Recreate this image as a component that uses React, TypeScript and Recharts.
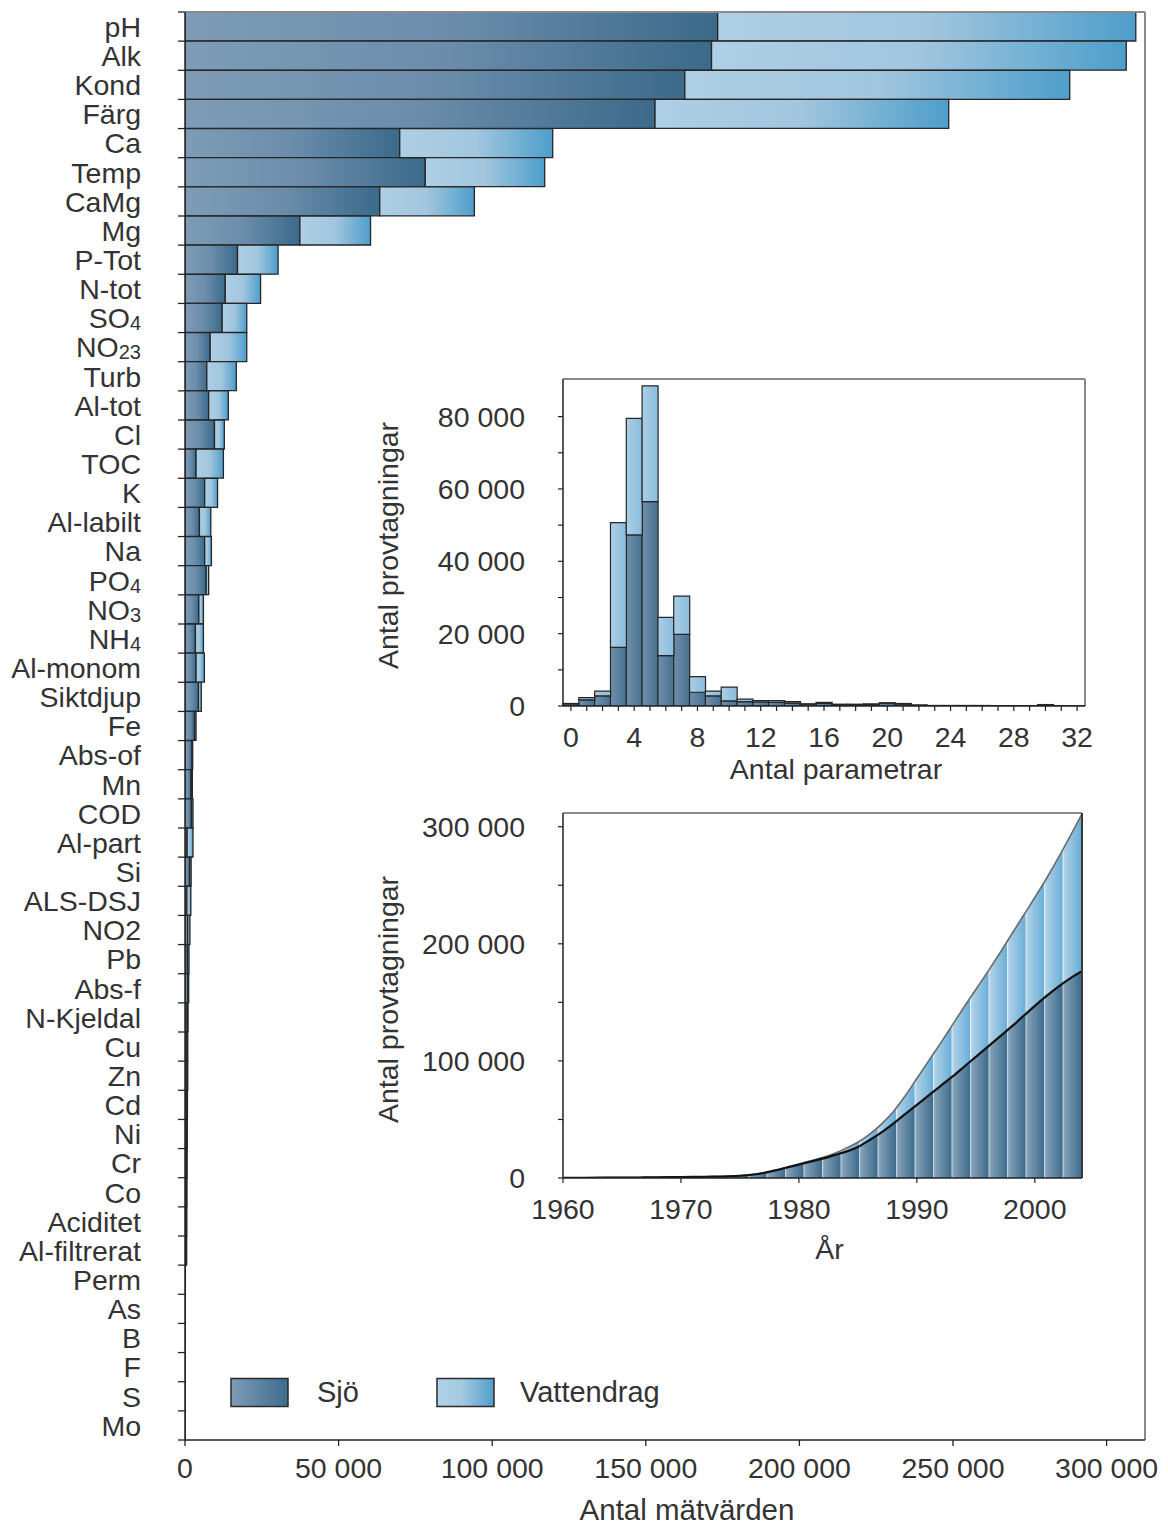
import React from 'react';
import { BarChart, Bar, XAxis, YAxis, Legend, Label, ComposedChart, Area, Line, ReferenceLine, CartesianGrid } from 'recharts';

const FONT = '"Liberation Sans", Arial, Helvetica, sans-serif';
const TEXT = '#333333';

// ---------- Main chart data (Antal mätvärden) ----------
const categories = [
  'pH', 'Alk', 'Kond', 'Färg', 'Ca', 'Temp', 'CaMg', 'Mg', 'P-Tot', 'N-tot',
  'SO4', 'NO23', 'Turb', 'Al-tot', 'Cl', 'TOC', 'K', 'Al-labilt', 'Na', 'PO4',
  'NO3', 'NH4', 'Al-monom', 'Siktdjup', 'Fe', 'Abs-of', 'Mn', 'COD', 'Al-part', 'Si',
  'ALS-DSJ', 'NO2', 'Pb', 'Abs-f', 'N-Kjeldal', 'Cu', 'Zn', 'Cd', 'Ni', 'Cr',
  'Co', 'Aciditet', 'Al-filtrerat', 'Perm', 'As', 'B', 'F', 'S', 'Mo',
];
const sjoCounts = [
  173400, 171400, 162700, 153000, 69900, 78200, 63400, 37400, 17100, 13100,
  12100, 8200, 7100, 7700, 9600, 3600, 6400, 4700, 6400, 6900,
  4500, 3400, 3600, 4400, 3100, 2300, 2000, 2100, 700, 1500,
  600, 900, 800, 900, 700, 600, 600, 500, 500, 450,
  400, 400, 350, 80, 60, 50, 40, 30, 20,
];
const vattCounts = [
  136100, 135000, 125300, 95600, 49800, 38900, 30800, 23000, 13200, 11500,
  8000, 11900, 9600, 6400, 3200, 8900, 4200, 3700, 2200, 800,
  1500, 2600, 2700, 900, 500, 200, 400, 500, 1900, 500,
  1300, 700, 500, 300, 300, 300, 300, 300, 250, 250,
  250, 200, 200, 40, 30, 20, 20, 20, 10,
];
const mainTicks = [0, 50000, 100000, 150000, 200000, 250000, 300000];
const MAIN_MAX = 312500;
const SUBS: Record<string, [string, string]> = {
  SO4: ['SO', '4'], NO23: ['NO', '23'], PO4: ['PO', '4'], NO3: ['NO', '3'], NH4: ['NH', '4'],
};

// ---------- Histogram data (Antal parametrar) ----------
const histParams = Array.from({ length: 33 }, (_, i) => String(i));
const histSjo = [
  600, 1700, 2800, 16200, 47300, 56500, 13900, 19800, 3800, 2800, 1400,
  1200, 1100, 1000, 800, 500, 700, 400, 400, 400, 700, 500,
  200, 100, 100, 100, 100, 100, 100, 100, 300, 100, 0,
];
const histVatt = [
  100, 600, 1300, 34500, 32200, 32000, 10600, 10600, 4300, 1300, 3800,
  700, 400, 500, 400, 100, 300, 100, 100, 200, 200, 200,
  100, 50, 50, 50, 50, 0, 0, 0, 100, 0, 50,
];
const histYTicks = [0, 10000, 20000, 30000, 40000, 50000, 60000, 70000, 80000];
const HIST_MAX = 90400;

// ---------- Cumulative data (År) ----------
const years = Array.from({ length: 45 }, (_, i) => 1960 + i);
const cumSjo = [
  100, 150, 200, 250, 300, 350, 400, 500, 600, 700,
  800, 900, 1000, 1200, 1400, 1900, 2800, 4300, 6500, 9000,
  11500, 14000, 16500, 19500, 22500, 26500, 32500, 39000, 46500, 54500,
  62500, 70500, 78500, 86500, 95000, 103500, 112000, 120500, 129000, 138000,
  147000, 155500, 163500, 170500, 176500,
];
const cumVatt = [
  0, 0, 0, 0, 0, 0, 0, 0, 0, 0,
  0, 0, 0, 0, 50, 50, 100, 100, 200, 300,
  500, 700, 1000, 1500, 3000, 4000, 5000, 7000, 10000, 15500,
  22500, 29500, 36500, 44000, 51000, 57500, 64000, 71000, 78500, 85500,
  92500, 100500, 110000, 121500, 134500,
];
const yearTicks = [1960, 1970, 1980, 1990, 2000];
const YEAR_MIN = 1960;
const YEAR_MAX = 2004;
const cumYTicks = [0, 50000, 100000, 150000, 200000, 250000, 300000];
const CUM_MAX = 311700;

const mainData = categories.map((name, i) => ({ name, sjo: sjoCounts[i], vatt: vattCounts[i] }));
const histData = histParams.map((n, i) => ({ n, sjo: histSjo[i], vatt: histVatt[i] }));
const cumData = years.map((year, i) => ({ year, sjo: cumSjo[i], vatt: cumVatt[i] }));

const fmt = (v: number) => String(v).replace(/\B(?=(\d{3})+(?!\d))/g, ' ');

// ---------- layout ----------
const MAIN_W = 1168;
const MAIN_H = 1526;
const MAIN_TOP = 12;
const MAIN_XAXIS_H = 86;
const BAND = (MAIN_H - MAIN_TOP - MAIN_XAXIS_H) / categories.length;

const tickStyle = { fontSize: 28.5, fill: TEXT, fontFamily: FONT };
const FRAME = '#8a8a8a';
const axisLine = { stroke: '#222', strokeWidth: 1.5 };

// frame lines (top and right edges of the plot area), derived from the chart's offset
const frameRight = (p: any) => (p && p.offset ? [p.offset.left + p.offset.width] : []);
const frameTop = (p: any) => (p && p.offset ? [p.offset.top] : []);

function CategoryTick(props: any) {
  const { x, y, payload, index } = props;
  const name: string = payload.value;
  const sub = SUBS[name];
  const yTop = y - BAND / 2;
  const yBot = y + BAND / 2;
  return (
    <g>
      <line x1={x - 7} x2={x} y1={yTop} y2={yTop} stroke="#222" strokeWidth={1.3} />
      {index === categories.length - 1 && (
        <line x1={x - 7} x2={x} y1={yBot} y2={yBot} stroke="#222" strokeWidth={1.3} />
      )}
      <text x={x - 44} y={y} dy="0.36em" textAnchor="end" fontSize={28.5} fill={TEXT} fontFamily={FONT}>
        {sub ? (
          <>
            <tspan>{sub[0]}</tspan>
            <tspan fontSize={20} dy={2}>{sub[1]}</tspan>
          </>
        ) : name}
      </text>
    </g>
  );
}

function LegendContent(props: any) {
  const payload = props.payload || [];
  const fills: Record<string, string> = { sjo: 'url(#legSjo)', vatt: 'url(#legVatt)' };
  return (
    <div style={{ display: 'flex', alignItems: 'center', fontFamily: FONT, fontSize: 29, color: TEXT }}>
      <svg width={0} height={0} style={{ position: 'absolute' }}>
        <defs>
          <linearGradient id="legSjo" x1="0" x2="1" y1="0" y2="0">
            <stop offset="0" stopColor="#7e9cb6" />
            <stop offset="1" stopColor="#3d6c8d" />
          </linearGradient>
          <linearGradient id="legVatt" x1="0" x2="1" y1="0" y2="0">
            <stop offset="0" stopColor="#b0d2e7" />
            <stop offset="0.45" stopColor="#a3c8e0" />
            <stop offset="1" stopColor="#4e9ecb" />
          </linearGradient>
        </defs>
      </svg>
      {payload.map((p: any, i: number) => (
        <div key={i} style={{ display: 'flex', alignItems: 'center', width: i === 0 ? 206 : 'auto' }}>
          <svg width={59} height={31}>
            <rect x={1} y={1.5} width={57} height={28} fill={fills[p.dataKey] || p.color} stroke="#2a2a2a" strokeWidth={1.5} />
          </svg>
          <span style={{ marginLeft: i === 0 ? 28 : 25 }}>{p.value}</span>
        </div>
      ))}
    </div>
  );
}

function makeYLabel(text: string, cx: number, dyc: number) {
  return (lp: any) => {
    const vb = lp.viewBox || {};
    const cy = (vb.y || 0) + (vb.height || 0) / 2 + dyc;
    return (
      <text
        x={cx}
        y={cy}
        transform={`rotate(-90 ${cx} ${cy})`}
        textAnchor="middle"
        dominantBaseline="central"
        fontSize={28.5}
        fill={TEXT}
        fontFamily={FONT}
      >
        {text}
      </text>
    );
  };
}

function MainChart() {
  return (
    <BarChart
      width={MAIN_W}
      height={MAIN_H}
      data={mainData}
      layout="vertical"
      margin={{ top: MAIN_TOP, right: 23, bottom: 0, left: 0 }}
      barCategoryGap={0}
    >
      <defs>
        <linearGradient id="mainSjo" x1="0" x2="1" y1="0" y2="0">
          <stop offset="0" stopColor="#7e9cb6" />
          <stop offset="0.5" stopColor="#6b8dab" />
          <stop offset="1" stopColor="#3b6a8b" />
        </linearGradient>
        <linearGradient id="mainVatt" x1="0" x2="1" y1="0" y2="0">
          <stop offset="0" stopColor="#aecfe5" />
          <stop offset="0.5" stopColor="#a1c6de" />
          <stop offset="1" stopColor="#4e9ecb" />
        </linearGradient>
      </defs>
      <XAxis
        type="number"
        domain={[0, MAIN_MAX]}
        ticks={mainTicks}
        tickFormatter={fmt}
        allowDataOverflow
        interval={0}
        height={MAIN_XAXIS_H}
        tickSize={6}
        tickMargin={12}
        axisLine={axisLine}
        tickLine={{ stroke: '#222', strokeWidth: 1.3 }}
        tick={tickStyle}
      >
        <Label
          value="Antal mätvärden"
          position="insideBottom"
          offset={6}
          dx={22}
          style={{ fontSize: 29.5, fill: TEXT, fontFamily: FONT }}
        />
      </XAxis>
      <YAxis
        type="category"
        dataKey="name"
        width={185}
        interval={0}
        tickSize={0}
        tickMargin={0}
        tickLine={false}
        axisLine={axisLine}
        tick={<CategoryTick />}
      />
      <ReferenceLine x={MAIN_MAX} stroke={FRAME} strokeWidth={2} />
      <ReferenceLine y={categories[0]} position="start" stroke={FRAME} strokeWidth={2} />
      <Bar dataKey="sjo" name="Sjö" stackId="s" fill="url(#mainSjo)" stroke="#262626" strokeWidth={1.3} isAnimationActive={false} />
      <Bar dataKey="vatt" name="Vattendrag" stackId="s" fill="url(#mainVatt)" stroke="#262626" strokeWidth={1.3} isAnimationActive={false} />
      <Legend
        layout="horizontal"
        align="center"
        verticalAlign="middle"
        wrapperStyle={{ left: 230, top: 1376, width: 'auto' }}
        content={<LegendContent />}
      />
    </BarChart>
  );
}

function HistChart() {
  return (
    <BarChart
      width={740}
      height={420}
      data={histData}
      margin={{ top: 9, right: 15, bottom: 0, left: 0 }}
      barCategoryGap={0}
    >
      <defs>
        <linearGradient id="hSjo" x1="0" x2="1" y1="0" y2="0">
          <stop offset="0" stopColor="#6f90ab" />
          <stop offset="1" stopColor="#47708f" />
        </linearGradient>
        <linearGradient id="hVatt" x1="0" x2="1" y1="0" y2="0">
          <stop offset="0" stopColor="#abcee5" />
          <stop offset="1" stopColor="#88bcdd" />
        </linearGradient>
      </defs>
      <CartesianGrid
        stroke={FRAME}
        strokeWidth={2}
        verticalCoordinatesGenerator={frameRight}
        horizontalCoordinatesGenerator={frameTop}
      />
      <XAxis
        dataKey="n"
        height={84}
        interval={0}
        tickSize={5}
        tickMargin={16}
        tickFormatter={(v: any) => (Number(v) % 4 === 0 ? String(v) : '')}
        axisLine={axisLine}
        tickLine={{ stroke: '#222', strokeWidth: 1.2 }}
        tick={tickStyle}
      >
        <Label
          value="Antal parametrar"
          position="insideBottom"
          offset={11}
          dx={12}
          style={{ fontSize: 28.5, fill: TEXT, fontFamily: FONT }}
        />
      </XAxis>
      <YAxis
        width={203}
        domain={[0, HIST_MAX]}
        allowDataOverflow
        ticks={histYTicks}
        interval={0}
        tickFormatter={(v: number) => (v % 20000 === 0 ? fmt(v) : '')}
        tickSize={5}
        tickMargin={33}
        axisLine={axisLine}
        tickLine={{ stroke: '#222', strokeWidth: 1.2 }}
        tick={tickStyle}
      >
        <Label content={makeYLabel('Antal provtagningar', 28, 3)} />
      </YAxis>
      <Bar dataKey="sjo" name="Sjö" stackId="h" fill="url(#hSjo)" stroke="#262626" strokeWidth={1.2} isAnimationActive={false} />
      <Bar dataKey="vatt" name="Vattendrag" stackId="h" fill="url(#hVatt)" stroke="#262626" strokeWidth={1.2} isAnimationActive={false} />
    </BarChart>
  );
}

function CumChart() {
  return (
    <ComposedChart
      width={740}
      height={470}
      data={cumData}
      margin={{ top: 13, right: 18, bottom: 0, left: 0 }}
    >
      <defs>
        <linearGradient id="stripeDarkG" x1="0" x2="1" y1="0" y2="0">
          <stop offset="0" stopColor="#8aa6bd" />
          <stop offset="1" stopColor="#3e6c8d" />
        </linearGradient>
        <linearGradient id="stripeLightG" x1="0" x2="1" y1="0" y2="0">
          <stop offset="0" stopColor="#b6d5e9" />
          <stop offset="1" stopColor="#6aaed8" />
        </linearGradient>
        <pattern id="patDark" patternUnits="userSpaceOnUse" x={203} y={0} width={18.5} height={20}>
          <rect width={18.5} height={20} fill="url(#stripeDarkG)" />
          <rect width={1.2} height={20} fill="#c3d2de" />
        </pattern>
        <pattern id="patLight" patternUnits="userSpaceOnUse" x={203} y={0} width={18.5} height={20}>
          <rect width={18.5} height={20} fill="url(#stripeLightG)" />
          <rect width={1.2} height={20} fill="#e1edf5" />
        </pattern>
      </defs>
      <CartesianGrid
        stroke={FRAME}
        strokeWidth={2}
        verticalCoordinatesGenerator={frameRight}
        horizontalCoordinatesGenerator={frameTop}
      />
      <XAxis
        dataKey="year"
        type="number"
        domain={[YEAR_MIN, YEAR_MAX]}
        ticks={yearTicks}
        interval={0}
        allowDataOverflow
        height={92}
        tickSize={5}
        tickMargin={16}
        axisLine={axisLine}
        tickLine={{ stroke: '#222', strokeWidth: 1.2 }}
        tick={tickStyle}
      >
        <Label
          value="År"
          position="insideBottom"
          offset={11}
          dx={7}
          style={{ fontSize: 28.5, fill: TEXT, fontFamily: FONT }}
        />
      </XAxis>
      <YAxis
        width={203}
        domain={[0, CUM_MAX]}
        allowDataOverflow
        ticks={cumYTicks}
        interval={0}
        tickFormatter={(v: number) => (v % 100000 === 0 ? fmt(v) : '')}
        tickSize={5}
        tickMargin={33}
        axisLine={axisLine}
        tickLine={{ stroke: '#222', strokeWidth: 1.2 }}
        tick={tickStyle}
      >
        <Label content={makeYLabel('Antal provtagningar', 28, 4)} />
      </YAxis>
      <Area
        dataKey="sjo"
        name="Sjö"
        stackId="c"
        type="monotone"
        fill="url(#patDark)"
        fillOpacity={1}
        stroke="none"
        isAnimationActive={false}
      />
      <Area
        dataKey="vatt"
        name="Vattendrag"
        stackId="c"
        type="monotone"
        fill="url(#patLight)"
        fillOpacity={1}
        stroke="#6a6a6a"
        strokeWidth={1.6}
        isAnimationActive={false}
      />
      <Line dataKey="sjo" type="monotone" stroke="#111" strokeWidth={2.2} dot={false} isAnimationActive={false} legendType="none" />
      <ReferenceLine x={YEAR_MAX} stroke="#3a3a3a" strokeWidth={2} />
    </ComposedChart>
  );
}

export default function App() {
  return (
    <div style={{ position: 'absolute', left: 0, top: 0, width: MAIN_W, height: MAIN_H, background: '#fff' }}>
      <div style={{ position: 'absolute', left: 0, top: 0 }}>
        <MainChart />
      </div>
      <div style={{ position: 'absolute', left: 360, top: 370 }}>
        <HistChart />
      </div>
      <div style={{ position: 'absolute', left: 360, top: 800 }}>
        <CumChart />
      </div>
    </div>
  );
}
